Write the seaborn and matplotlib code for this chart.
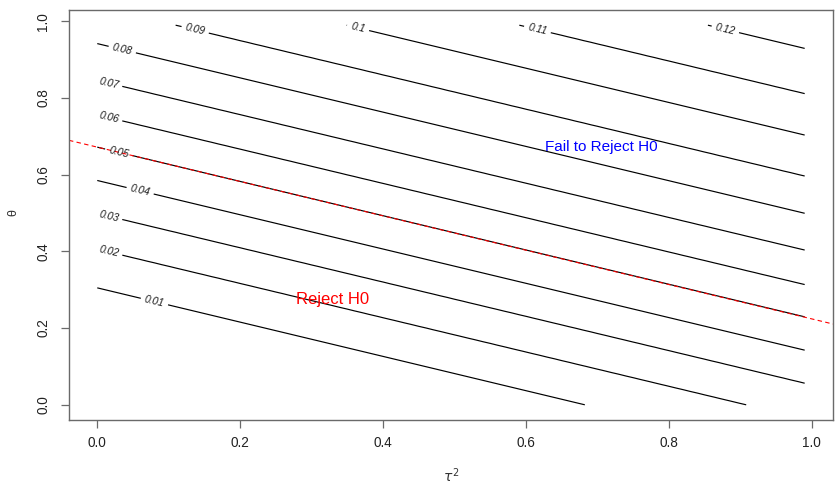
import numpy as np
import matplotlib
matplotlib.use("Agg")
import matplotlib.pyplot as plt
import seaborn as sns

# Contour levels and the theta value at which each contour meets tau^2 = 0
levels = [0.01, 0.02, 0.03, 0.04, 0.05, 0.06, 0.07, 0.08, 0.09, 0.10, 0.11, 0.12]
theta_at_zero = [0.305, 0.406, 0.499, 0.585, 0.672, 0.756, 0.846, 0.942,
                 1.039, 1.146, 1.254, 1.372]
# every contour falls by this much in theta per unit of tau^2
theta_per_tau2 = -0.447

# decision boundary (abline)
boundary_intercept = 0.672
boundary_slope = -0.448

# region annotations
region_text = ["Reject H0", "Fail to Reject H0"]
region_tau2 = [0.329, 0.706]
region_theta = [0.262, 0.662]
region_color = ["#ff0000", "#0000ff"]
region_size = [12, 11]

tick_values = [0.0, 0.2, 0.4, 0.6, 0.8, 1.0]
tick_labels = ["0.0", "0.2", "0.4", "0.6", "0.8", "1.0"]

# evaluation grid
tau2 = np.round(np.arange(0, 1.0, 0.01), 2)
theta = np.round(np.arange(0, 1.0, 0.01), 2)
T2, TH = np.meshgrid(tau2, theta)

# surface: level as a function of theta shifted along the contour direction
u = TH - theta_per_tau2 * T2
lv = np.asarray(levels)
tz = np.asarray(theta_at_zero)
lo = (lv[1] - lv[0]) / (tz[1] - tz[0])
hi = (lv[-1] - lv[-2]) / (tz[-1] - tz[-2])
tz_ext = np.concatenate([[tz[0] - 1.0], tz, [tz[-1] + 1.0]])
lv_ext = np.concatenate([[lv[0] - lo], lv, [lv[-1] + hi]])
Z = np.interp(u, tz_ext, lv_ext)

sns.set_style("white")
plt.rcParams["font.family"] = ["Liberation Sans", "DejaVu Sans"]
plt.rcParams["mathtext.fontset"] = "dejavusans"

fig = plt.figure(figsize=(8.38, 4.93), dpi=100)
ax = fig.add_axes([0.0823, 0.1481, 0.9940 - 0.0823, 0.9797 - 0.1481])

cs = ax.contour(T2, TH, Z, levels=levels, colors="black", linewidths=0.85)

# label placement along each contour
label_tau2 = [0.08, 0.016, 0.016, 0.06, 0.03, 0.016, 0.016, 0.035, 0.137, 0.365, 0.616, 0.879]
label_pos = []
for t0, lt in zip(theta_at_zero, label_tau2):
    label_pos.append((lt, t0 + theta_per_tau2 * lt))
texts = ax.clabel(cs, levels=levels, manual=label_pos, inline=True,
                  inline_spacing=5, fontsize=7.5,
                  fmt=lambda v: f"{v:g}")
for t in texts:
    t.set_fontstyle("italic")
    t.set_color("#1a1a1a")

xlim = (-0.0396, 1.0296)
ylim = (-0.0396, 1.0296)

# decision boundary across the full panel
bx = np.array(xlim)
sns.lineplot(x=bx, y=boundary_intercept + boundary_slope * bx, ax=ax,
             color="#ff0000", linewidth=0.8)
ax.lines[-1].set_dashes([4, 3])

for txt, x, y, c, s in zip(region_text, region_tau2, region_theta, region_color, region_size):
    ax.text(x, y, txt, color=c, fontsize=s, ha="center", va="baseline")

ax.set_xlim(*xlim)
ax.set_ylim(*ylim)
ax.set_xticks(tick_values)
ax.set_xticklabels(tick_labels)
ax.set_yticks(tick_values)
ax.set_yticklabels(tick_labels, rotation=90, va="center")

for sp in ax.spines.values():
    sp.set_color("#6a6a6a")
    sp.set_linewidth(1.0)
ax.tick_params(axis="both", which="major", direction="out", length=5.5,
               width=0.9, color="#6a6a6a", labelsize=9.8, labelcolor="#222222",
               pad=6, bottom=True, left=True)
ax.tick_params(axis="y", pad=8)

ax.set_xlabel(r"$\tau^2$", fontsize=10, color="#333333")
ax.set_ylabel("θ", fontsize=9, color="#333333")
ax.xaxis.set_label_coords(0.5, -0.112)
ax.yaxis.set_label_coords(-0.0654, 0.505)

fig.savefig("out.png", dpi=100)
